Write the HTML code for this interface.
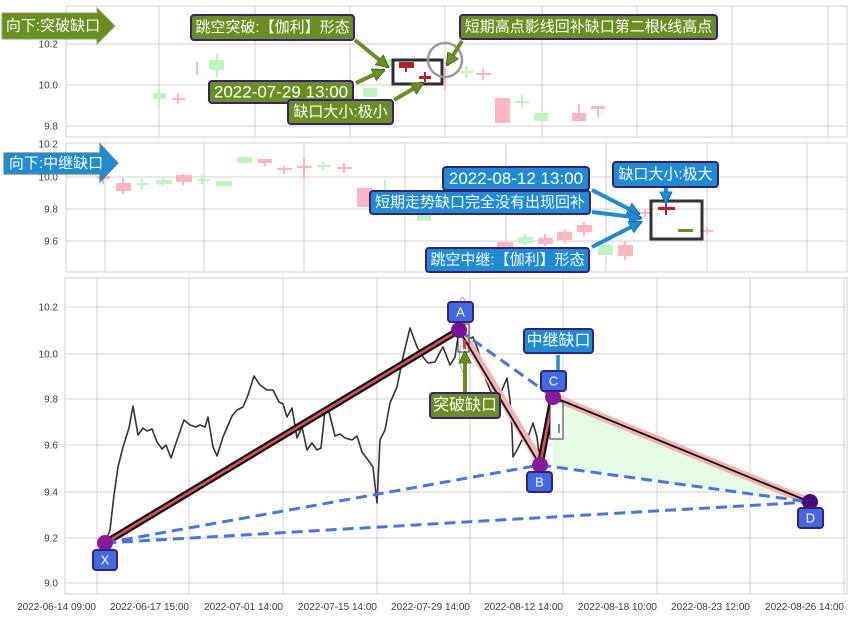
<!DOCTYPE html>
<html><head><meta charset="utf-8"><style>
html,body{margin:0;padding:0;background:#fff;}
svg{display:block;}
text{font-family:"Liberation Sans","Noto Sans CJK SC",sans-serif;}
.tk{font-size:10px;fill:#3a3a3a;}
.lb{fill:#fff;text-anchor:middle;dominant-baseline:central;}
</style></head><body>
<svg width="853" height="617" viewBox="0 0 853 617" xmlns="http://www.w3.org/2000/svg">
<defs>
<marker id="ho" viewBox="0 0 10 10" refX="9" refY="5" markerUnits="userSpaceOnUse" markerWidth="13" markerHeight="13" orient="auto"><path d="M0,0 L10,5 L0,10 z" fill="#6b8e23" stroke="#3d5210" stroke-width="0.6"/></marker>
<marker id="hb" viewBox="0 0 10 10" refX="9" refY="5" markerUnits="userSpaceOnUse" markerWidth="13" markerHeight="13" orient="auto"><path d="M0,0 L10,5 L0,10 z" fill="#1e8bd3" stroke="#15608f" stroke-width="0.6"/></marker>
</defs>
<rect width="853" height="617" fill="#fff"/>

<!-- ============ TOP PANEL ============ -->
<g stroke="#d0d0d0" stroke-width="1">
<line x1="159" y1="6" x2="159" y2="137"/><line x1="255" y1="6" x2="255" y2="137"/><line x1="350" y1="6" x2="350" y2="137"/><line x1="445" y1="6" x2="445" y2="137"/><line x1="542" y1="6" x2="542" y2="137"/><line x1="637" y1="6" x2="637" y2="137"/><line x1="732" y1="6" x2="732" y2="137"/><line x1="828" y1="6" x2="828" y2="137"/>
<line x1="66" y1="44" x2="847" y2="44"/><line x1="66" y1="85" x2="847" y2="85"/><line x1="66" y1="126" x2="847" y2="126"/>
<rect x="66" y="6" width="781" height="131" fill="none"/>
</g>
<text class="tk" x="58" y="47.5" text-anchor="end">10.2</text>
<text class="tk" x="58" y="88.5" text-anchor="end">10.0</text>
<text class="tk" x="58" y="129.5" text-anchor="end">9.8</text>

<!-- top candles -->
<g stroke-width="2">
<line x1="159" y1="89" x2="159" y2="107" stroke="#bff5c0"/><rect x="153" y="93" width="13" height="6" fill="#bff5c0"/>
<line x1="178" y1="93" x2="178" y2="104" stroke="#ffb6c1"/><rect x="172" y="98" width="13" height="2" fill="#ffb6c1"/>
<line x1="197" y1="62" x2="197" y2="75" stroke="#ffb6c1"/>
<line x1="217" y1="53" x2="217" y2="77" stroke="#bff5c0"/><rect x="209" y="60" width="15" height="10" fill="#bff5c0"/>
<rect x="363" y="88" width="14" height="9" fill="#bff5c0"/>
<rect x="381" y="59" width="12" height="8" fill="#bff5c0"/>
<line x1="406" y1="62" x2="406" y2="72" stroke="#b22222"/><rect x="399" y="62" width="15" height="6" fill="#b22222"/>
<line x1="425" y1="72" x2="425" y2="82" stroke="#b22222"/><rect x="419" y="76" width="12" height="3" fill="#b22222"/>
<line x1="445" y1="67" x2="445" y2="90" stroke="#ffb6c1"/>
<line x1="466" y1="66" x2="466" y2="78" stroke="#bff5c0"/><rect x="459" y="71" width="15" height="2" fill="#bff5c0"/>
<line x1="483" y1="68" x2="483" y2="80" stroke="#ffb6c1"/><rect x="476" y="73" width="15" height="2" fill="#ffb6c1"/>
<rect x="495" y="98" width="15" height="25" fill="#ffb6c1"/>
<line x1="522" y1="95" x2="522" y2="108" stroke="#bff5c0"/><rect x="515" y="101" width="14" height="2" fill="#bff5c0"/>
<rect x="534" y="113" width="14" height="8" fill="#bff5c0"/>
<line x1="579" y1="104" x2="579" y2="121" stroke="#ffb6c1"/><rect x="572" y="113" width="14" height="8" fill="#ffb6c1"/>
<line x1="598" y1="106" x2="598" y2="117" stroke="#ffb6c1"/><rect x="591" y="106" width="14" height="3" fill="#ffb6c1"/>
</g>
<rect x="393" y="60" width="49" height="24" fill="none" stroke="#2b2b3a" stroke-width="3"/>
<circle cx="445" cy="60" r="17" fill="none" stroke="#9a9a9a" stroke-width="2.5"/>

<!-- top arrows -->
<g stroke="#6b8e23" stroke-width="4" fill="none">
<line x1="355" y1="40" x2="388" y2="67" marker-end="url(#ho)"/>
<line x1="356" y1="83" x2="384" y2="70" marker-end="url(#ho)"/>
<line x1="394" y1="100" x2="423" y2="83" marker-end="url(#ho)"/>
<line x1="462" y1="41" x2="447" y2="65" marker-end="url(#ho)"/>
</g>
<!-- top labels -->
<polygon points="2,13 97,13 97,8 115,26 97,44 97,39 2,39" fill="#6b8e23" stroke="#86a85a" stroke-width="1"/>
<text class="lb" x="53" y="26" font-size="15" style="text-anchor:middle">向下:突破缺口</text>
<rect x="191" y="15" width="163" height="25" rx="3" fill="#6b8e23" stroke="#3b1f75" stroke-width="2"/>
<text class="lb" x="272.5" y="27.5" font-size="15">跳空突破:【伽利】形态</text>
<rect x="209" y="81" width="144" height="22" rx="3" fill="#6b8e23" stroke="#3b1f75" stroke-width="2"/>
<text class="lb" x="281" y="92" font-size="17">2022-07-29 13:00</text>
<rect x="288" y="100" width="105" height="24" rx="3" fill="#6b8e23" stroke="#3b1f75" stroke-width="2"/>
<text class="lb" x="340.5" y="112" font-size="15">缺口大小:极小</text>
<rect x="460" y="15" width="257" height="24" rx="3" fill="#6b8e23" stroke="#3b1f75" stroke-width="2"/>
<text class="lb" x="588.5" y="27" font-size="15">短期高点影线回补缺口第二根k线高点</text>

<!-- ============ MIDDLE PANEL ============ -->
<g stroke="#d0d0d0" stroke-width="1">
<line x1="105" y1="143" x2="105" y2="272"/><line x1="204" y1="143" x2="204" y2="272"/><line x1="304" y1="143" x2="304" y2="272"/><line x1="405" y1="143" x2="405" y2="272"/><line x1="506" y1="143" x2="506" y2="272"/><line x1="606" y1="143" x2="606" y2="272"/><line x1="707" y1="143" x2="707" y2="272"/><line x1="807" y1="143" x2="807" y2="272"/>
<line x1="66" y1="177" x2="847" y2="177"/><line x1="66" y1="209" x2="847" y2="209"/><line x1="66" y1="241" x2="847" y2="241"/>
<rect x="66" y="143" width="781" height="129" fill="none"/>
</g>
<text class="tk" x="58" y="147.5" text-anchor="end">10.2</text>
<text class="tk" x="58" y="180.5" text-anchor="end">10.0</text>
<text class="tk" x="58" y="212.5" text-anchor="end">9.8</text>
<text class="tk" x="58" y="244.5" text-anchor="end">9.6</text>

<g stroke-width="2">
<line x1="103" y1="176" x2="103" y2="184" stroke="#ffb6c1"/><rect x="97" y="176" width="13" height="3" fill="#ffb6c1"/>
<line x1="123" y1="178" x2="123" y2="194" stroke="#ffb6c1"/><rect x="116" y="183" width="15" height="8" fill="#ffb6c1"/>
<line x1="142" y1="179" x2="142" y2="189" stroke="#bff5c0"/><rect x="137" y="183" width="11" height="2" fill="#bff5c0"/>
<line x1="163" y1="178" x2="163" y2="186" stroke="#bff5c0"/><rect x="156" y="180" width="16" height="4" fill="#bff5c0"/>
<line x1="183" y1="174" x2="183" y2="185" stroke="#ffb6c1"/><rect x="176" y="175" width="16" height="7" fill="#ffb6c1"/>
<line x1="202" y1="175" x2="202" y2="184" stroke="#bff5c0"/><rect x="197" y="179" width="13" height="2" fill="#bff5c0"/>
<rect x="216" y="181" width="16" height="5" fill="#bff5c0"/>
<rect x="237" y="157" width="15" height="6" fill="#bff5c0"/>
<line x1="265" y1="159" x2="265" y2="166" stroke="#ffb6c1"/><rect x="258" y="159" width="14" height="4" fill="#ffb6c1"/>
<line x1="284" y1="166" x2="284" y2="174" stroke="#ffb6c1"/><rect x="277" y="168" width="15" height="2" fill="#ffb6c1"/>
<line x1="304" y1="157" x2="304" y2="180" stroke="#ffb6c1"/><rect x="297" y="166" width="15" height="2" fill="#ffb6c1"/>
<line x1="323" y1="162" x2="323" y2="170" stroke="#bff5c0"/><rect x="318" y="165" width="12" height="2" fill="#bff5c0"/>
<line x1="344" y1="163" x2="344" y2="173" stroke="#ffb6c1"/><rect x="337" y="167" width="15" height="2" fill="#ffb6c1"/>
<rect x="357" y="188" width="15" height="19" fill="#ffb6c1"/>
<line x1="385" y1="180" x2="385" y2="190" stroke="#bff5c0"/>
<rect x="417" y="215" width="14" height="6" fill="#bff5c0"/>
<rect x="497" y="242" width="16" height="5" fill="#ffb6c1"/>
<line x1="525" y1="234" x2="525" y2="246" stroke="#bff5c0"/><rect x="518" y="237" width="15" height="6" fill="#bff5c0"/>
<line x1="545" y1="234" x2="545" y2="246" stroke="#ffb6c1"/><rect x="538" y="238" width="15" height="6" fill="#ffb6c1"/>
<line x1="565" y1="229" x2="565" y2="243" stroke="#ffb6c1"/><rect x="557" y="232" width="15" height="8" fill="#ffb6c1"/>
<line x1="584" y1="222" x2="584" y2="236" stroke="#ffb6c1"/><rect x="577" y="225" width="15" height="7" fill="#ffb6c1"/>
<rect x="598" y="245" width="15" height="10" fill="#bff5c0"/>
<line x1="625" y1="242" x2="625" y2="260" stroke="#ffb6c1"/><rect x="618" y="245" width="15" height="11" fill="#ffb6c1"/>
<line x1="645" y1="209" x2="645" y2="217" stroke="#ffb6c1"/><rect x="639" y="212" width="12" height="2" fill="#ffb6c1"/>
<line x1="666" y1="204" x2="666" y2="215" stroke="#b22222"/><rect x="658" y="207" width="17" height="3" fill="#b22222"/>
<rect x="678" y="229" width="15" height="3" fill="#6b8e23"/>
<line x1="707" y1="228" x2="707" y2="234" stroke="#ffb6c1"/><rect x="700" y="230" width="13" height="2" fill="#ffb6c1"/>
</g>
<rect x="651" y="201" width="51" height="38" fill="none" stroke="#333" stroke-width="3"/>

<g stroke="#1e8bd3" stroke-width="4" fill="none">
<line x1="592" y1="190" x2="639" y2="214" marker-end="url(#hb)"/>
<line x1="592" y1="212" x2="641" y2="218" marker-end="url(#hb)"/>
<line x1="592" y1="247" x2="641" y2="222" marker-end="url(#hb)"/>
<line x1="666" y1="187" x2="666" y2="203" marker-end="url(#hb)"/>
</g>
<polygon points="4,153 100,153 100,144 118,163 100,182 100,174 4,174" fill="#1e8bd3" stroke="#5a8a80" stroke-width="1.2"/>
<text class="lb" x="56" y="163.5" font-size="15">向下:中继缺口</text>
<rect x="443" y="167" width="146" height="23" rx="3" fill="#1e8bd3" stroke="#3b1f75" stroke-width="2"/>
<text class="lb" x="516" y="178.5" font-size="17">2022-08-12 13:00</text>
<rect x="370" y="191" width="220" height="23" rx="3" fill="#1e8bd3" stroke="#3b1f75" stroke-width="2"/>
<text class="lb" x="480" y="202.5" font-size="15">短期走势缺口完全没有出现回补</text>
<rect x="426" y="248" width="163" height="24" rx="3" fill="#1e8bd3" stroke="#3b1f75" stroke-width="2"/>
<text class="lb" x="507.5" y="260" font-size="15">跳空中继:【伽利】形态</text>
<rect x="613" y="162" width="105" height="25" rx="3" fill="#1e8bd3" stroke="#3b1f75" stroke-width="2"/>
<text class="lb" x="665.5" y="174.5" font-size="15">缺口大小:极大</text>

<!-- ============ BOTTOM PANEL ============ -->
<g stroke="#d0d0d0" stroke-width="1">
<line x1="97" y1="278" x2="97" y2="594"/><line x1="189" y1="278" x2="189" y2="594"/><line x1="283" y1="278" x2="283" y2="594"/><line x1="377" y1="278" x2="377" y2="594"/><line x1="470" y1="278" x2="470" y2="594"/><line x1="563" y1="278" x2="563" y2="594"/><line x1="657" y1="278" x2="657" y2="594"/><line x1="750" y1="278" x2="750" y2="594"/><line x1="844" y1="278" x2="844" y2="594"/>
<line x1="65" y1="307" x2="846" y2="307"/><line x1="65" y1="354" x2="846" y2="354"/><line x1="65" y1="399" x2="846" y2="399"/><line x1="65" y1="445" x2="846" y2="445"/><line x1="65" y1="492" x2="846" y2="492"/><line x1="65" y1="538" x2="846" y2="538"/><line x1="65" y1="583" x2="846" y2="583"/>
<rect x="65" y="278" width="782" height="316" fill="none"/>
</g>
<text class="tk" x="58" y="310.5" text-anchor="end">10.2</text>
<text class="tk" x="58" y="357.5" text-anchor="end">10.0</text>
<text class="tk" x="58" y="402.5" text-anchor="end">9.8</text>
<text class="tk" x="58" y="448.5" text-anchor="end">9.6</text>
<text class="tk" x="58" y="495.5" text-anchor="end">9.4</text>
<text class="tk" x="58" y="541.5" text-anchor="end">9.2</text>
<text class="tk" x="58" y="586.5" text-anchor="end">9.0</text>

<g class="tk" text-anchor="end">
<text x="96" y="610">2022-06-14 09:00</text>
<text x="189" y="610">2022-06-17 15:00</text>
<text x="283" y="610">2022-07-01 14:00</text>
<text x="377" y="610">2022-07-15 14:00</text>
<text x="470" y="610">2022-07-29 14:00</text>
<text x="563" y="610">2022-08-12 14:00</text>
<text x="657" y="610">2022-08-18 10:00</text>
<text x="750" y="610">2022-08-23 12:00</text>
<text x="844" y="610">2022-08-26 14:00</text>
</g>

<!-- green fill -->
<polygon points="553,397 810,502 553,467" fill="#e4fbe4"/>

<!-- price line -->
<polyline fill="none" stroke="#333" stroke-width="1.6" stroke-linejoin="round" points="105,543 110,530 114,495 118,467 123,447 129,428 133,406 138,435 143,428 147,431 152,429 157,442 162,449 166,445 171,458 176,443 184,420 190,425 196,427 200,425 205,427 208,417 213,447 217,456 223,437 232,416 237,410 243,407 248,395 254,376 260,385 267,390 273,390 279,402 283,404 287,417 292,408 297,438 302,427 307,450 312,443 317,450 321,448 325,410 329,412 335,436 340,434 345,438 352,440 357,436 362,452 368,460 373,467 377,503 380,440 385,430 390,403 397,387 403,357 410,328 417,347 423,357 428,363 435,362 440,352 443,347 450,365 455,357 458,337 459,330 467,340 473,337 478,350 485,377 490,390 495,397 502,390 507,378 510,400 512,430 513,457 517,450 522,440 528,437 533,423 537,437 540,463"/>
<path d="M459,306 Q461,293 465,300 Q467,320 462,335 M461,345 Q457,360 463,372" fill="none" stroke="#9aa89a" stroke-width="1"/>

<!-- pink bands -->
<line x1="461" y1="331" x2="542" y2="465" stroke="#f4b4b4" stroke-width="8"/>
<line x1="553" y1="397" x2="810" y2="502" stroke="#f4b4b4" stroke-width="8"/>
<line x1="459" y1="330" x2="540" y2="465" stroke="#111" stroke-width="1.8"/>
<line x1="553" y1="397" x2="810" y2="502" stroke="#111" stroke-width="1.8"/>

<!-- thick black-red lines -->
<line x1="105" y1="543" x2="459" y2="330" stroke="#111" stroke-width="7"/>
<line x1="105" y1="543" x2="459" y2="330" stroke="#e0505c" stroke-width="2.5"/>
<line x1="540" y1="465" x2="553" y2="397" stroke="#111" stroke-width="7"/>
<line x1="540" y1="465" x2="553" y2="397" stroke="#e0505c" stroke-width="2.5"/>

<!-- dashed lines -->
<g stroke="#4a76d6" stroke-width="3" stroke-dasharray="11 6" fill="none">
<line x1="105" y1="543" x2="540" y2="465"/>
<line x1="105" y1="543" x2="810" y2="502"/>
<line x1="459" y1="330" x2="553" y2="397"/>
<line x1="540" y1="465" x2="810" y2="502"/>
</g>

<!-- small gap boxes -->
<rect x="458" y="324" width="11" height="28" fill="none" stroke="#333" stroke-width="1"/>
<rect x="463" y="340" width="3" height="9" fill="#d9443c"/>
<rect x="550" y="402" width="13" height="37" fill="#fff" stroke="#333" stroke-width="1"/>
<line x1="559" y1="424" x2="559" y2="433" stroke="#6b9a6b" stroke-width="2"/>

<!-- circles -->
<circle cx="105" cy="543" r="8" fill="#8a1a9a"/>
<circle cx="459" cy="330" r="8" fill="#7a0f9a"/>
<circle cx="540" cy="465" r="8" fill="#8a1a9a"/>
<circle cx="553" cy="397" r="8" fill="#8a1a9a"/>
<circle cx="810" cy="502" r="8" fill="#4b0a78"/>

<!-- annotation arrows bottom -->
<line x1="465" y1="392" x2="465" y2="352" stroke="#6b8e23" stroke-width="4" marker-end="url(#ho)"/>
<line x1="558" y1="355" x2="558" y2="372" stroke="#1e8bd3" stroke-width="3.5"/>

<!-- letter labels -->
<g font-size="13">
<rect x="448" y="302" width="25" height="20" rx="3" fill="#4169e1" stroke="#3b1f75" stroke-width="2"/><text class="lb" x="460.5" y="312">A</text>
<rect x="527" y="472" width="25" height="20" rx="3" fill="#4169e1" stroke="#3b1f75" stroke-width="2"/><text class="lb" x="539.5" y="482">B</text>
<rect x="541" y="371" width="25" height="20" rx="3" fill="#4169e1" stroke="#3b1f75" stroke-width="2"/><text class="lb" x="553.5" y="381">C</text>
<rect x="798" y="508" width="25" height="20" rx="3" fill="#4169e1" stroke="#3b1f75" stroke-width="2"/><text class="lb" x="810.5" y="518">D</text>
<rect x="93" y="550" width="24" height="20" rx="3" fill="#4169e1" stroke="#3b1f75" stroke-width="2"/><text class="lb" x="105" y="560">X</text>
</g>
<rect x="430" y="393" width="70" height="25" rx="3" fill="#6b8e23" stroke="#3b1f75" stroke-width="2"/>
<text class="lb" x="465" y="405.5" font-size="16">突破缺口</text>
<rect x="524" y="329" width="69" height="24" rx="3" fill="#1e8bd3" stroke="#3b1f75" stroke-width="2"/>
<text class="lb" x="558.5" y="341" font-size="16">中继缺口</text>
</svg>
</body></html>
